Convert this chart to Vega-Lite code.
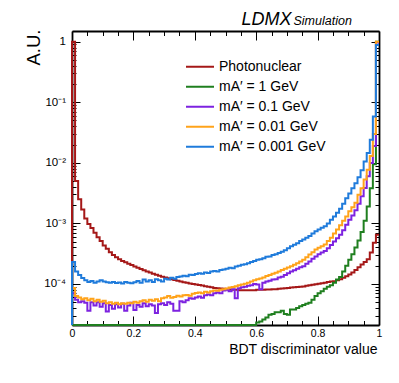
{
"$schema": "https://vega.github.io/schema/vega-lite/v6.json",
"width": 307, "height": 294,
"autosize": {"type": "none"},
"padding": {"left": 72, "top": 31, "right": 20, "bottom": 58},
"background": "white",
"config": {"view": {"stroke": null}, "font": "Liberation Sans",
 "axis": {"grid": false, "domain": true, "domainColor": "black", "domainWidth": 1.8, "zindex": 0, "tickColor": "black", "tickWidth": 1, "labelColor": "black", "titleColor": "black", "labelFont": "Liberation Sans", "titleFont": "Liberation Sans", "titleFontWeight": "normal", "labelFontSize": 9.5, "labelFlush": false, "labelOverlap": false, "labelBound": false}},
"resolve": {"axis": {"x": "independent", "y": "independent"}},
"layer": [
{
"data": {"values": [
{"s":"P","x":0,"y":1e-6},{"s":"P","x":0,"y":1},{"s":"P","x":0.01,"y":5e-3},{"s":"P","x":0.02,"y":2.5e-3},{"s":"P","x":0.03,"y":1.7e-3},{"s":"P","x":0.04,"y":1.2e-3},{"s":"P","x":0.05,"y":9.8e-4},{"s":"P","x":0.06,"y":8.4e-4},{"s":"P","x":0.07,"y":7e-4},{"s":"P","x":0.08,"y":5.9e-4},{"s":"P","x":0.09,"y":5.1e-4},
{"s":"P","x":0.1,"y":4.3e-4},{"s":"P","x":0.11,"y":3.8e-4},{"s":"P","x":0.12,"y":3.35e-4},{"s":"P","x":0.13,"y":3e-4},{"s":"P","x":0.14,"y":2.75e-4},{"s":"P","x":0.15,"y":2.55e-4},{"s":"P","x":0.16,"y":2.4e-4},{"s":"P","x":0.17,"y":2.28e-4},{"s":"P","x":0.18,"y":2.15e-4},{"s":"P","x":0.19,"y":2.05e-4},
{"s":"P","x":0.2,"y":1.95e-4},{"s":"P","x":0.21,"y":1.85e-4},{"s":"P","x":0.22,"y":1.76e-4},{"s":"P","x":0.23,"y":1.68e-4},{"s":"P","x":0.24,"y":1.6e-4},{"s":"P","x":0.25,"y":1.54e-4},{"s":"P","x":0.26,"y":1.48e-4},{"s":"P","x":0.27,"y":1.42e-4},{"s":"P","x":0.28,"y":1.37e-4},{"s":"P","x":0.29,"y":1.32e-4},
{"s":"P","x":0.3,"y":1.28e-4},{"s":"P","x":0.31,"y":1.24e-4},{"s":"P","x":0.32,"y":1.2e-4},{"s":"P","x":0.33,"y":1.16e-4},{"s":"P","x":0.34,"y":1.13e-4},{"s":"P","x":0.35,"y":1.1e-4},{"s":"P","x":0.36,"y":1.07e-4},{"s":"P","x":0.37,"y":1.05e-4},{"s":"P","x":0.38,"y":1.02e-4},{"s":"P","x":0.39,"y":1e-4},
{"s":"P","x":0.4,"y":9.8e-5},{"s":"P","x":0.41,"y":9.6e-5},{"s":"P","x":0.42,"y":9.4e-5},{"s":"P","x":0.43,"y":9.2e-5},{"s":"P","x":0.44,"y":9e-5},{"s":"P","x":0.45,"y":8.8e-5},{"s":"P","x":0.46,"y":8.6e-5},{"s":"P","x":0.47,"y":8.5e-5},{"s":"P","x":0.48,"y":8.4e-5},{"s":"P","x":0.49,"y":8.3e-5},
{"s":"P","x":0.5,"y":8.2e-5},{"s":"P","x":0.51,"y":8.1e-5},{"s":"P","x":0.52,"y":8e-5},{"s":"P","x":0.53,"y":8e-5},{"s":"P","x":0.54,"y":7.9e-5},{"s":"P","x":0.55,"y":7.9e-5},{"s":"P","x":0.56,"y":7.9e-5},{"s":"P","x":0.57,"y":7.9e-5},{"s":"P","x":0.58,"y":7.9e-5},{"s":"P","x":0.59,"y":7.9e-5},
{"s":"P","x":0.6,"y":8e-5},{"s":"P","x":0.61,"y":8e-5},{"s":"P","x":0.62,"y":8e-5},{"s":"P","x":0.63,"y":8.1e-5},{"s":"P","x":0.64,"y":8.1e-5},{"s":"P","x":0.65,"y":8.2e-5},{"s":"P","x":0.66,"y":8.2e-5},{"s":"P","x":0.67,"y":8.3e-5},{"s":"P","x":0.68,"y":8.4e-5},{"s":"P","x":0.69,"y":8.5e-5},
{"s":"P","x":0.7,"y":8.6e-5},{"s":"P","x":0.71,"y":8.7e-5},{"s":"P","x":0.72,"y":8.8e-5},{"s":"P","x":0.73,"y":8.9e-5},{"s":"P","x":0.74,"y":9e-5},{"s":"P","x":0.75,"y":9.1e-5},{"s":"P","x":0.76,"y":9.3e-5},{"s":"P","x":0.77,"y":9.5e-5},{"s":"P","x":0.78,"y":9.7e-5},{"s":"P","x":0.79,"y":9.9e-5},
{"s":"P","x":0.8,"y":1.01e-4},{"s":"P","x":0.81,"y":1.03e-4},{"s":"P","x":0.82,"y":1.05e-4},{"s":"P","x":0.83,"y":1.08e-4},{"s":"P","x":0.84,"y":1.1e-4},{"s":"P","x":0.85,"y":1.11e-4},{"s":"P","x":0.86,"y":1.15e-4},{"s":"P","x":0.87,"y":1.2e-4},{"s":"P","x":0.88,"y":1.26e-4},{"s":"P","x":0.89,"y":1.34e-4},
{"s":"P","x":0.9,"y":1.43e-4},{"s":"P","x":0.91,"y":1.55e-4},{"s":"P","x":0.92,"y":1.7e-4},{"s":"P","x":0.93,"y":1.88e-4},{"s":"P","x":0.94,"y":2.1e-4},{"s":"P","x":0.95,"y":2.3e-4},{"s":"P","x":0.96,"y":2.55e-4},{"s":"P","x":0.97,"y":3.3e-4},{"s":"P","x":0.98,"y":4.8e-4},{"s":"P","x":0.99,"y":6.5e-4},{"s":"P","x":1,"y":6.5e-4},

{"s":"G","x":0,"y":1e-6},{"s":"G","x":0,"y":1e-6},{"s":"G","x":0.01,"y":1e-6},{"s":"G","x":0.02,"y":1e-6},{"s":"G","x":0.03,"y":1e-6},{"s":"G","x":0.04,"y":1e-6},{"s":"G","x":0.05,"y":1e-6},{"s":"G","x":0.06,"y":1e-6},{"s":"G","x":0.07,"y":1e-6},{"s":"G","x":0.08,"y":1e-6},{"s":"G","x":0.09,"y":1e-6},
{"s":"G","x":0.1,"y":1e-6},{"s":"G","x":0.11,"y":1e-6},{"s":"G","x":0.12,"y":1e-6},{"s":"G","x":0.13,"y":1e-6},{"s":"G","x":0.14,"y":1e-6},{"s":"G","x":0.15,"y":1e-6},{"s":"G","x":0.16,"y":1e-6},{"s":"G","x":0.17,"y":1e-6},{"s":"G","x":0.18,"y":1e-6},{"s":"G","x":0.19,"y":1e-6},
{"s":"G","x":0.2,"y":1e-6},{"s":"G","x":0.21,"y":1e-6},{"s":"G","x":0.22,"y":1e-6},{"s":"G","x":0.23,"y":1e-6},{"s":"G","x":0.24,"y":1e-6},{"s":"G","x":0.25,"y":1e-6},{"s":"G","x":0.26,"y":1e-6},{"s":"G","x":0.27,"y":1e-6},{"s":"G","x":0.28,"y":1e-6},{"s":"G","x":0.29,"y":1e-6},
{"s":"G","x":0.3,"y":1e-6},{"s":"G","x":0.31,"y":1e-6},{"s":"G","x":0.32,"y":1e-6},{"s":"G","x":0.33,"y":1e-6},{"s":"G","x":0.34,"y":1e-6},{"s":"G","x":0.35,"y":1e-6},{"s":"G","x":0.36,"y":1e-6},{"s":"G","x":0.37,"y":1e-6},{"s":"G","x":0.38,"y":1e-6},{"s":"G","x":0.39,"y":1e-6},
{"s":"G","x":0.4,"y":1e-6},{"s":"G","x":0.41,"y":1e-6},{"s":"G","x":0.42,"y":1e-6},{"s":"G","x":0.43,"y":1e-6},{"s":"G","x":0.44,"y":1e-6},{"s":"G","x":0.45,"y":1e-6},{"s":"G","x":0.46,"y":1e-6},{"s":"G","x":0.47,"y":1e-6},{"s":"G","x":0.48,"y":1e-6},{"s":"G","x":0.49,"y":1e-6},
{"s":"G","x":0.5,"y":1e-6},{"s":"G","x":0.51,"y":1e-6},{"s":"G","x":0.52,"y":1e-6},{"s":"G","x":0.53,"y":1e-6},{"s":"G","x":0.54,"y":1e-6},{"s":"G","x":0.55,"y":1e-6},{"s":"G","x":0.56,"y":1e-6},{"s":"G","x":0.57,"y":1e-6},{"s":"G","x":0.58,"y":1e-6},{"s":"G","x":0.59,"y":1e-6},
{"s":"G","x":0.6,"y":2.3e-5},{"s":"G","x":0.61,"y":2.4e-5},{"s":"G","x":0.62,"y":2.6e-5},{"s":"G","x":0.63,"y":2.8e-5},{"s":"G","x":0.64,"y":3.1e-5},{"s":"G","x":0.65,"y":3.2e-5},{"s":"G","x":0.66,"y":3.4e-5},{"s":"G","x":0.67,"y":3.4e-5},{"s":"G","x":0.68,"y":3.6e-5},{"s":"G","x":0.69,"y":3.2e-5},
{"s":"G","x":0.7,"y":3.1e-5},{"s":"G","x":0.71,"y":3.8e-5},{"s":"G","x":0.72,"y":3.8e-5},{"s":"G","x":0.73,"y":4e-5},{"s":"G","x":0.74,"y":4.3e-5},{"s":"G","x":0.75,"y":4.5e-5},{"s":"G","x":0.76,"y":4.7e-5},{"s":"G","x":0.77,"y":4.9e-5},{"s":"G","x":0.78,"y":5.5e-5},{"s":"G","x":0.79,"y":6.3e-5},
{"s":"G","x":0.8,"y":7e-5},{"s":"G","x":0.81,"y":7.6e-5},{"s":"G","x":0.82,"y":8.3e-5},{"s":"G","x":0.83,"y":9e-5},{"s":"G","x":0.84,"y":9.5e-5},{"s":"G","x":0.85,"y":1.05e-4},{"s":"G","x":0.86,"y":1.18e-4},{"s":"G","x":0.87,"y":1.3e-4},{"s":"G","x":0.88,"y":1.6e-4},{"s":"G","x":0.89,"y":2e-4},
{"s":"G","x":0.9,"y":2.5e-4},{"s":"G","x":0.91,"y":3.1e-4},{"s":"G","x":0.92,"y":4e-4},{"s":"G","x":0.93,"y":5.2e-4},{"s":"G","x":0.94,"y":7.2e-4},{"s":"G","x":0.95,"y":1.1e-3},{"s":"G","x":0.96,"y":1.9e-3},{"s":"G","x":0.97,"y":3.8e-3},{"s":"G","x":0.98,"y":9.5e-3},{"s":"G","x":0.99,"y":1},{"s":"G","x":1,"y":1},

{"s":"V","x":0,"y":1e-6},{"s":"V","x":0,"y":7e-5},{"s":"V","x":0.01,"y":5.5e-5},{"s":"V","x":0.02,"y":5e-5},{"s":"V","x":0.03,"y":5.2e-5},{"s":"V","x":0.04,"y":4.9e-5},{"s":"V","x":0.05,"y":3.6e-5},{"s":"V","x":0.06,"y":5e-5},{"s":"V","x":0.07,"y":4.4e-5},{"s":"V","x":0.08,"y":5e-5},{"s":"V","x":0.09,"y":4.2e-5},
{"s":"V","x":0.1,"y":4.8e-5},{"s":"V","x":0.11,"y":3.5e-5},{"s":"V","x":0.12,"y":4.5e-5},{"s":"V","x":0.13,"y":3.9e-5},{"s":"V","x":0.14,"y":4.6e-5},{"s":"V","x":0.15,"y":4.1e-5},{"s":"V","x":0.16,"y":4.7e-5},{"s":"V","x":0.17,"y":3.6e-5},{"s":"V","x":0.18,"y":4.4e-5},{"s":"V","x":0.19,"y":4.9e-5},
{"s":"V","x":0.2,"y":3.7e-5},{"s":"V","x":0.21,"y":4.5e-5},{"s":"V","x":0.22,"y":4.2e-5},{"s":"V","x":0.23,"y":4.8e-5},{"s":"V","x":0.24,"y":4.3e-5},{"s":"V","x":0.25,"y":4.6e-5},{"s":"V","x":0.26,"y":4.4e-5},{"s":"V","x":0.27,"y":3.3e-5},{"s":"V","x":0.28,"y":4.6e-5},{"s":"V","x":0.29,"y":4.8e-5},
{"s":"V","x":0.3,"y":4.5e-5},{"s":"V","x":0.31,"y":5e-5},{"s":"V","x":0.32,"y":4.7e-5},{"s":"V","x":0.33,"y":3.6e-5},{"s":"V","x":0.34,"y":3.6e-5},{"s":"V","x":0.35,"y":5.2e-5},{"s":"V","x":0.36,"y":5e-5},{"s":"V","x":0.37,"y":5.4e-5},{"s":"V","x":0.38,"y":5.8e-5},{"s":"V","x":0.39,"y":5.7e-5},
{"s":"V","x":0.4,"y":6e-5},{"s":"V","x":0.41,"y":6.2e-5},{"s":"V","x":0.42,"y":5.9e-5},{"s":"V","x":0.43,"y":6.5e-5},{"s":"V","x":0.44,"y":6.7e-5},{"s":"V","x":0.45,"y":6.5e-5},{"s":"V","x":0.46,"y":7e-5},{"s":"V","x":0.47,"y":7.2e-5},{"s":"V","x":0.48,"y":7e-5},{"s":"V","x":0.49,"y":7.8e-5},
{"s":"V","x":0.5,"y":8e-5},{"s":"V","x":0.51,"y":7.6e-5},{"s":"V","x":0.52,"y":8.2e-5},{"s":"V","x":0.53,"y":5.8e-5},{"s":"V","x":0.54,"y":8.5e-5},{"s":"V","x":0.55,"y":8.8e-5},{"s":"V","x":0.56,"y":9e-5},{"s":"V","x":0.57,"y":9.3e-5},{"s":"V","x":0.58,"y":9.5e-5},{"s":"V","x":0.59,"y":1e-4},
{"s":"V","x":0.6,"y":9.8e-5},{"s":"V","x":0.61,"y":8.2e-5},{"s":"V","x":0.62,"y":1.05e-4},{"s":"V","x":0.63,"y":1.1e-4},{"s":"V","x":0.64,"y":1.13e-4},{"s":"V","x":0.65,"y":1.18e-4},{"s":"V","x":0.66,"y":1.2e-4},{"s":"V","x":0.67,"y":1.28e-4},{"s":"V","x":0.68,"y":1.32e-4},{"s":"V","x":0.69,"y":1.4e-4},
{"s":"V","x":0.7,"y":1.5e-4},{"s":"V","x":0.71,"y":1.6e-4},{"s":"V","x":0.72,"y":1.68e-4},{"s":"V","x":0.73,"y":1.78e-4},{"s":"V","x":0.74,"y":1.88e-4},{"s":"V","x":0.75,"y":1.96e-4},{"s":"V","x":0.76,"y":2.15e-4},{"s":"V","x":0.77,"y":2.35e-4},{"s":"V","x":0.78,"y":2.6e-4},{"s":"V","x":0.79,"y":2.85e-4},
{"s":"V","x":0.8,"y":3.1e-4},{"s":"V","x":0.81,"y":3.3e-4},{"s":"V","x":0.82,"y":3.5e-4},{"s":"V","x":0.83,"y":3.9e-4},{"s":"V","x":0.84,"y":4.4e-4},{"s":"V","x":0.85,"y":5e-4},{"s":"V","x":0.86,"y":5.7e-4},{"s":"V","x":0.87,"y":6.5e-4},{"s":"V","x":0.88,"y":7.7e-4},{"s":"V","x":0.89,"y":9.5e-4},
{"s":"V","x":0.9,"y":1.15e-3},{"s":"V","x":0.91,"y":1.35e-3},{"s":"V","x":0.92,"y":1.65e-3},{"s":"V","x":0.93,"y":2.1e-3},{"s":"V","x":0.94,"y":2.8e-3},{"s":"V","x":0.95,"y":3.85e-3},{"s":"V","x":0.96,"y":6e-3},{"s":"V","x":0.97,"y":9.9e-3},{"s":"V","x":0.98,"y":1.9e-2},{"s":"V","x":0.99,"y":0.97},{"s":"V","x":1,"y":0.97},

{"s":"O","x":0,"y":1e-6},{"s":"O","x":0,"y":8.6e-5},{"s":"O","x":0.01,"y":6.3e-5},{"s":"O","x":0.02,"y":6e-5},{"s":"O","x":0.03,"y":5.6e-5},{"s":"O","x":0.04,"y":5.8e-5},{"s":"O","x":0.05,"y":5.4e-5},{"s":"O","x":0.06,"y":5.7e-5},{"s":"O","x":0.07,"y":5.2e-5},{"s":"O","x":0.08,"y":5.5e-5},{"s":"O","x":0.09,"y":5.1e-5},
{"s":"O","x":0.1,"y":5.3e-5},{"s":"O","x":0.11,"y":4.8e-5},{"s":"O","x":0.12,"y":5e-5},{"s":"O","x":0.13,"y":4.7e-5},{"s":"O","x":0.14,"y":4.9e-5},{"s":"O","x":0.15,"y":4.6e-5},{"s":"O","x":0.16,"y":4.8e-5},{"s":"O","x":0.17,"y":4.7e-5},{"s":"O","x":0.18,"y":4.9e-5},{"s":"O","x":0.19,"y":4.8e-5},
{"s":"O","x":0.2,"y":5.1e-5},{"s":"O","x":0.21,"y":4.9e-5},{"s":"O","x":0.22,"y":5.2e-5},{"s":"O","x":0.23,"y":5.4e-5},{"s":"O","x":0.24,"y":5.1e-5},{"s":"O","x":0.25,"y":5.5e-5},{"s":"O","x":0.26,"y":5.3e-5},{"s":"O","x":0.27,"y":5.6e-5},{"s":"O","x":0.28,"y":5.2e-5},{"s":"O","x":0.29,"y":5.8e-5},
{"s":"O","x":0.3,"y":6e-5},{"s":"O","x":0.31,"y":6.3e-5},{"s":"O","x":0.32,"y":5.9e-5},{"s":"O","x":0.33,"y":6.1e-5},{"s":"O","x":0.34,"y":6.4e-5},{"s":"O","x":0.35,"y":6.2e-5},{"s":"O","x":0.36,"y":6.5e-5},{"s":"O","x":0.37,"y":6.6e-5},{"s":"O","x":0.38,"y":6.4e-5},{"s":"O","x":0.39,"y":6.9e-5},
{"s":"O","x":0.4,"y":7.1e-5},{"s":"O","x":0.41,"y":7.2e-5},{"s":"O","x":0.42,"y":7e-5},{"s":"O","x":0.43,"y":7.4e-5},{"s":"O","x":0.44,"y":7.2e-5},{"s":"O","x":0.45,"y":7.6e-5},{"s":"O","x":0.46,"y":7.8e-5},{"s":"O","x":0.47,"y":7.7e-5},{"s":"O","x":0.48,"y":8e-5},{"s":"O","x":0.49,"y":8.2e-5},
{"s":"O","x":0.5,"y":8.4e-5},{"s":"O","x":0.51,"y":8.7e-5},{"s":"O","x":0.52,"y":8.9e-5},{"s":"O","x":0.53,"y":9.2e-5},{"s":"O","x":0.54,"y":9.5e-5},{"s":"O","x":0.55,"y":9.8e-5},{"s":"O","x":0.56,"y":1.01e-4},{"s":"O","x":0.57,"y":1.05e-4},{"s":"O","x":0.58,"y":1.1e-4},{"s":"O","x":0.59,"y":1.15e-4},
{"s":"O","x":0.6,"y":1.19e-4},{"s":"O","x":0.61,"y":1.23e-4},{"s":"O","x":0.62,"y":1.28e-4},{"s":"O","x":0.63,"y":1.35e-4},{"s":"O","x":0.64,"y":1.4e-4},{"s":"O","x":0.65,"y":1.47e-4},{"s":"O","x":0.66,"y":1.53e-4},{"s":"O","x":0.67,"y":1.6e-4},{"s":"O","x":0.68,"y":1.7e-4},{"s":"O","x":0.69,"y":1.78e-4},
{"s":"O","x":0.7,"y":1.87e-4},{"s":"O","x":0.71,"y":1.96e-4},{"s":"O","x":0.72,"y":2.08e-4},{"s":"O","x":0.73,"y":2.2e-4},{"s":"O","x":0.74,"y":2.35e-4},{"s":"O","x":0.75,"y":2.5e-4},{"s":"O","x":0.76,"y":2.75e-4},{"s":"O","x":0.77,"y":3.05e-4},{"s":"O","x":0.78,"y":3.35e-4},{"s":"O","x":0.79,"y":3.7e-4},
{"s":"O","x":0.8,"y":3.95e-4},{"s":"O","x":0.81,"y":4.2e-4},{"s":"O","x":0.82,"y":4.5e-4},{"s":"O","x":0.83,"y":5.1e-4},{"s":"O","x":0.84,"y":5.8e-4},{"s":"O","x":0.85,"y":6.8e-4},{"s":"O","x":0.86,"y":7.9e-4},{"s":"O","x":0.87,"y":9.3e-4},{"s":"O","x":0.88,"y":1.1e-3},{"s":"O","x":0.89,"y":1.3e-3},
{"s":"O","x":0.9,"y":1.58e-3},{"s":"O","x":0.91,"y":1.85e-3},{"s":"O","x":0.92,"y":2.2e-3},{"s":"O","x":0.93,"y":2.97e-3},{"s":"O","x":0.94,"y":3.8e-3},{"s":"O","x":0.95,"y":5.3e-3},{"s":"O","x":0.96,"y":7.7e-3},{"s":"O","x":0.97,"y":1.3e-2},{"s":"O","x":0.98,"y":3e-2},{"s":"O","x":0.99,"y":1},{"s":"O","x":1,"y":1},

{"s":"B","x":0,"y":1e-6},{"s":"B","x":0,"y":2.3e-4},{"s":"B","x":0.01,"y":1.6e-4},{"s":"B","x":0.02,"y":1.4e-4},{"s":"B","x":0.03,"y":1.25e-4},{"s":"B","x":0.04,"y":1.15e-4},{"s":"B","x":0.05,"y":1.08e-4},{"s":"B","x":0.06,"y":1.12e-4},{"s":"B","x":0.07,"y":1.05e-4},{"s":"B","x":0.08,"y":1.1e-4},{"s":"B","x":0.09,"y":1.15e-4},
{"s":"B","x":0.1,"y":1.1e-4},{"s":"B","x":0.11,"y":1.07e-4},{"s":"B","x":0.12,"y":1.05e-4},{"s":"B","x":0.13,"y":1.08e-4},{"s":"B","x":0.14,"y":1.04e-4},{"s":"B","x":0.15,"y":1.06e-4},{"s":"B","x":0.16,"y":1.02e-4},{"s":"B","x":0.17,"y":1.08e-4},{"s":"B","x":0.18,"y":1.05e-4},{"s":"B","x":0.19,"y":1.03e-4},
{"s":"B","x":0.2,"y":1.07e-4},{"s":"B","x":0.21,"y":1.12e-4},{"s":"B","x":0.22,"y":1.05e-4},{"s":"B","x":0.23,"y":1.18e-4},{"s":"B","x":0.24,"y":1.1e-4},{"s":"B","x":0.25,"y":1.15e-4},{"s":"B","x":0.26,"y":1.08e-4},{"s":"B","x":0.27,"y":1.2e-4},{"s":"B","x":0.28,"y":1.15e-4},{"s":"B","x":0.29,"y":1.1e-4},
{"s":"B","x":0.3,"y":1.22e-4},{"s":"B","x":0.31,"y":1.18e-4},{"s":"B","x":0.32,"y":1.26e-4},{"s":"B","x":0.33,"y":1.22e-4},{"s":"B","x":0.34,"y":1.3e-4},{"s":"B","x":0.35,"y":1.33e-4},{"s":"B","x":0.36,"y":1.37e-4},{"s":"B","x":0.37,"y":1.34e-4},{"s":"B","x":0.38,"y":1.42e-4},{"s":"B","x":0.39,"y":1.4e-4},
{"s":"B","x":0.4,"y":1.46e-4},{"s":"B","x":0.41,"y":1.5e-4},{"s":"B","x":0.42,"y":1.47e-4},{"s":"B","x":0.43,"y":1.55e-4},{"s":"B","x":0.44,"y":1.52e-4},{"s":"B","x":0.45,"y":1.6e-4},{"s":"B","x":0.46,"y":1.64e-4},{"s":"B","x":0.47,"y":1.61e-4},{"s":"B","x":0.48,"y":1.7e-4},{"s":"B","x":0.49,"y":1.73e-4},
{"s":"B","x":0.5,"y":1.78e-4},{"s":"B","x":0.51,"y":1.85e-4},{"s":"B","x":0.52,"y":1.82e-4},{"s":"B","x":0.53,"y":1.95e-4},{"s":"B","x":0.54,"y":2e-4},{"s":"B","x":0.55,"y":2.08e-4},{"s":"B","x":0.56,"y":2.12e-4},{"s":"B","x":0.57,"y":2.2e-4},{"s":"B","x":0.58,"y":2.3e-4},{"s":"B","x":0.59,"y":2.4e-4},
{"s":"B","x":0.6,"y":2.5e-4},{"s":"B","x":0.61,"y":2.55e-4},{"s":"B","x":0.62,"y":2.65e-4},{"s":"B","x":0.63,"y":2.8e-4},{"s":"B","x":0.64,"y":2.85e-4},{"s":"B","x":0.65,"y":3e-4},{"s":"B","x":0.66,"y":3.1e-4},{"s":"B","x":0.67,"y":3.25e-4},{"s":"B","x":0.68,"y":3.4e-4},{"s":"B","x":0.69,"y":3.6e-4},
{"s":"B","x":0.7,"y":3.9e-4},{"s":"B","x":0.71,"y":4.2e-4},{"s":"B","x":0.72,"y":4.45e-4},{"s":"B","x":0.73,"y":4.7e-4},{"s":"B","x":0.74,"y":5.1e-4},{"s":"B","x":0.75,"y":5.4e-4},{"s":"B","x":0.76,"y":5.8e-4},{"s":"B","x":0.77,"y":6.2e-4},{"s":"B","x":0.78,"y":6.8e-4},{"s":"B","x":0.79,"y":7.4e-4},
{"s":"B","x":0.8,"y":7.9e-4},{"s":"B","x":0.81,"y":8.5e-4},{"s":"B","x":0.82,"y":9e-4},{"s":"B","x":0.83,"y":1e-3},{"s":"B","x":0.84,"y":1.15e-3},{"s":"B","x":0.85,"y":1.3e-3},{"s":"B","x":0.86,"y":1.5e-3},{"s":"B","x":0.87,"y":1.75e-3},{"s":"B","x":0.88,"y":2.1e-3},{"s":"B","x":0.89,"y":2.6e-3},
{"s":"B","x":0.9,"y":3.1e-3},{"s":"B","x":0.91,"y":3.8e-3},{"s":"B","x":0.92,"y":4.6e-3},{"s":"B","x":0.93,"y":5.8e-3},{"s":"B","x":0.94,"y":7.5e-3},{"s":"B","x":0.95,"y":1.05e-2},{"s":"B","x":0.96,"y":1.45e-2},{"s":"B","x":0.97,"y":2.4e-2},{"s":"B","x":0.98,"y":5.8e-2},{"s":"B","x":0.99,"y":0.88},{"s":"B","x":1,"y":0.88}
]},
"mark": {"type": "line", "interpolate": "step-after", "strokeWidth": 2, "clip": false},
"encoding": {
 "x": {"field": "x", "type": "quantitative", "scale": {"domain": [0, 1], "nice": false, "zero": false},
   "axis": {"orient": "bottom", "values": [0, 0.2, 0.4, 0.6, 0.8, 1], "tickSize": -9, "labelPadding": 12, "labelFontSize": 10.5, "labelExpr": "datum.value == 0 ? '0' : datum.value == 1 ? '1' : format(datum.value, '.1f')",
     "title": "BDT discriminator value", "titleFontSize": 14, "titleX": 305, "titleY": 28, "titleAlign": "right", "titleBaseline": "alphabetic", "titleAnchor": null}},
 "y": {"field": "y", "type": "quantitative", "scale": {"type": "log", "domain": [2.1e-5, 1.5], "nice": false, "clamp": true},
   "axis": {"orient": "left", "values": [0.0001, 0.001, 0.01, 0.1, 1], "tickSize": -8, "labelPadding": 14.5, "labelFontSize": 11.5,
     "labelExpr": "datum.value == 1 ? '1' : datum.value == 0.1 ? '10⁻¹' : datum.value == 0.01 ? '10⁻²' : datum.value == 0.001 ? '10⁻³' : '10⁻⁴'",
     "title": "A.U.", "titleFontSize": 18.5, "titleAngle": -90, "titleX": -33, "titleY": -2, "titleAlign": "right", "titleBaseline": "alphabetic"}},
 "color": {"field": "s", "type": "nominal",
   "scale": {"domain": ["P", "G", "V", "O", "B"], "range": ["#a51818", "#1f7f1f", "#7d22e0", "#ffa31a", "#1f7bdb"]},
   "legend": {"orient": "none", "legendX": 113, "legendY": 26.1, "title": null, "padding": 0, "symbolType": "stroke", "symbolSize": 784, "symbolStrokeWidth": 2, "labelFontSize": 14, "labelFont": "Liberation Sans", "labelColor": "black", "labelOffset": 4, "rowPadding": 0, "clipHeight": 19.2,
     "labelExpr": "datum.value == 'P' ? 'Photonuclear' : datum.value == 'G' ? 'mA′ = 1 GeV' : datum.value == 'V' ? 'mA′ = 0.1 GeV' : datum.value == 'O' ? 'mA′ = 0.01 GeV' : 'mA′ = 0.001 GeV'"}}
}
},
{
"data": {"values": [{}]},
"mark": {"type": "point", "opacity": 0},
"encoding": {
 "x": {"datum": 0.5, "type": "quantitative", "axis": {"orient": "bottom", "domain": false, "values": [0.05,0.1,0.15,0.25,0.3,0.35,0.45,0.5,0.55,0.65,0.7,0.75,0.85,0.9,0.95], "tickSize": -4.5, "labels": false, "title": null}},
 "y": {"datum": 0.001, "type": "quantitative", "axis": {"orient": "left", "domain": false, "values": [3e-5,4e-5,5e-5,6e-5,7e-5,8e-5,9e-5,2e-4,3e-4,4e-4,5e-4,6e-4,7e-4,8e-4,9e-4,2e-3,3e-3,4e-3,5e-3,6e-3,7e-3,8e-3,9e-3,2e-2,3e-2,4e-2,5e-2,6e-2,7e-2,8e-2,9e-2,0.2,0.3,0.4,0.5,0.6,0.7,0.8,0.9], "tickSize": -4, "labels": false, "title": null}}
}
},
{
"data": {"values": [{}]},
"mark": {"type": "point", "opacity": 0},
"encoding": {
 "x": {"datum": 0.5, "type": "quantitative", "axis": {"orient": "top", "values": [0, 0.2, 0.4, 0.6, 0.8, 1], "tickSize": -9, "labels": false,
   "title": "LDMX", "titleFontSize": 18, "titleFontStyle": "italic", "titleX": 169, "titleY": -6.7, "titleAlign": "left", "titleBaseline": "alphabetic", "titleAngle": 0}},
 "y": {"datum": 0.001, "type": "quantitative", "axis": {"orient": "right", "values": [0.0001, 0.001, 0.01, 0.1, 1], "tickSize": -8, "labels": false, "title": null}}
}
},
{
"data": {"values": [{}]},
"mark": {"type": "point", "opacity": 0},
"encoding": {
 "x": {"datum": 0.5, "type": "quantitative", "axis": {"orient": "top", "domain": false, "values": [0.05,0.1,0.15,0.25,0.3,0.35,0.45,0.5,0.55,0.65,0.7,0.75,0.85,0.9,0.95], "tickSize": -4.5, "labels": false,
   "title": "Simulation", "titleFontSize": 12.5, "titleFontStyle": "italic", "titleX": 221, "titleY": -6.7, "titleAlign": "left", "titleBaseline": "alphabetic", "titleAngle": 0}},
 "y": {"datum": 0.001, "type": "quantitative", "axis": {"orient": "right", "domain": false, "values": [3e-5,4e-5,5e-5,6e-5,7e-5,8e-5,9e-5,2e-4,3e-4,4e-4,5e-4,6e-4,7e-4,8e-4,9e-4,2e-3,3e-3,4e-3,5e-3,6e-3,7e-3,8e-3,9e-3,2e-2,3e-2,4e-2,5e-2,6e-2,7e-2,8e-2,9e-2,0.2,0.3,0.4,0.5,0.6,0.7,0.8,0.9], "tickSize": -4, "labels": false, "title": null}}
}
}
]
}
